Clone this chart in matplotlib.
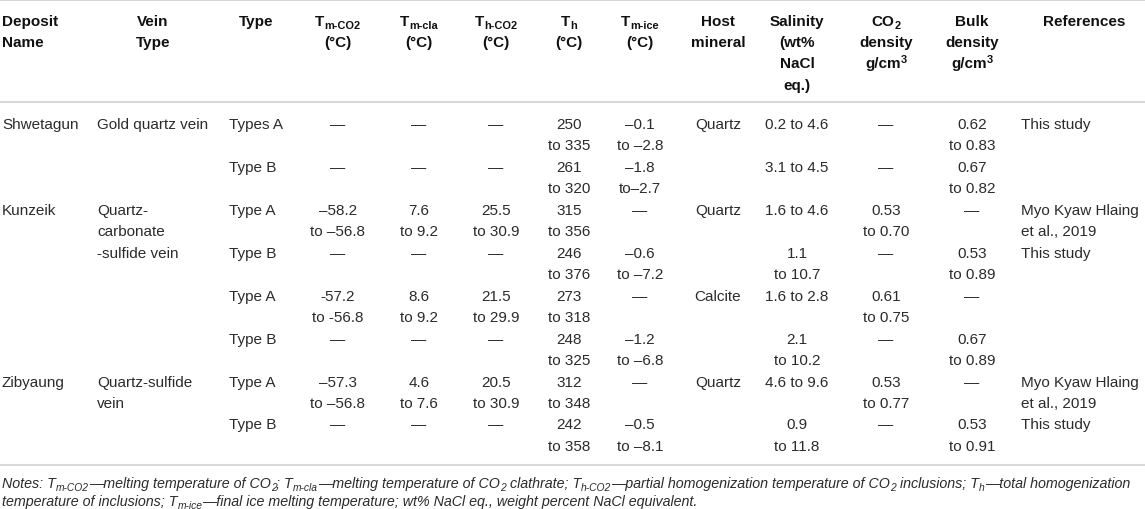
import matplotlib.pyplot as plt

plt.rcParams['font.family'] = ['Liberation Sans', 'DejaVu Sans']

# ---- table content -------------------------------------------------------
deposits = ["Shwetagun", "", "Kunzeik", "", "", "", "Zibyaung", ""]
vein_types = ["Gold quartz vein", "", "Quartz-\ncarbonate\n-sulfide vein", "",
              "", "", "Quartz-sulfide\nvein", ""]
inc_types = ["Types A", "Type B", "Type A", "Type B",
             "Type A", "Type B", "Type A", "Type B"]
tm_co2 = ["—", "—", "–58.2\nto –56.8", "—", "-57.2\nto -56.8", "—",
          "–57.3\nto –56.8", "—"]
tm_cla = ["—", "—", "7.6\nto 9.2", "—", "8.6\nto 9.2", "—", "4.6\nto 7.6", "—"]
th_co2 = ["—", "—", "25.5\nto 30.9", "—", "21.5\nto 29.9", "—",
          "20.5\nto 30.9", "—"]
th = ["250\nto 335", "261\nto 320", "315\nto 356", "246\nto 376",
      "273\nto 318", "248\nto 325", "312\nto 348", "242\nto 358"]
tm_ice = ["–0.1\nto –2.8", "–1.8\nto–2.7", "—", "–0.6\nto –7.2", "—",
          "–1.2\nto –6.8", "—", "–0.5\nto –8.1"]
host = ["Quartz", "", "Quartz", "", "Calcite", "", "Quartz", ""]
salinity = ["0.2 to 4.6", "3.1 to 4.5", "1.6 to 4.6", "1.1\nto 10.7",
            "1.6 to 2.8", "2.1\nto 10.2", "4.6 to 9.6", "0.9\nto 11.8"]
co2_density = ["—", "—", "0.53\nto 0.70", "—", "0.61\nto 0.75", "—",
               "0.53\nto 0.77", "—"]
bulk_density = ["0.62\nto 0.83", "0.67\nto 0.82", "—", "0.53\nto 0.89", "—",
                "0.67\nto 0.89", "—", "0.53\nto 0.91"]
references = ["This study", "", "Myo Kyaw Hlaing\net al., 2019", "This study",
              "", "", "Myo Kyaw Hlaing\net al., 2019", "This study"]

# header: each line is a list of (text, kind) pieces
headers = [
    [[("Deposit", "n")], [("Name", "n")]],
    [[("Vein", "n")], [("Type", "n")]],
    [[("Type", "n")]],
    [[("T", "n"), ("m-CO2", "sub")], [("(°C)", "n")]],
    [[("T", "n"), ("m-cla", "sub")], [("(°C)", "n")]],
    [[("T", "n"), ("h-CO2", "sub")], [("(°C)", "n")]],
    [[("T", "n"), ("h", "sub")], [("(°C)", "n")]],
    [[("T", "n"), ("m-ice", "sub")], [("(°C)", "n")]],
    [[("Host", "n")], [("mineral", "n")]],
    [[("Salinity", "n")], [("(wt%", "n")], [("NaCl", "n")], [("eq.)", "n")]],
    [[("CO", "n"), ("2", "sub")], [("density", "n")],
     [("g/cm", "n"), ("3", "sup")]],
    [[("Bulk", "n")], [("density", "n")], [("g/cm", "n"), ("3", "sup")]],
    [[("References", "n")]],
]

notes = [
    [("Notes: T", "n"), ("m-CO2", "sub"), ("—melting temperature of CO", "n"),
     ("2", "sub"), ("; T", "n"), ("m-cla", "sub"),
     ("—melting temperature of CO", "n"), ("2", "sub"), (" clathrate; T", "n"),
     ("h-CO2", "sub"), ("—partial homogenization temperature of CO", "n"),
     ("2", "sub"), (" inclusions; T", "n"), ("h", "sub"),
     ("—total homogenization", "n")],
    [("temperature of inclusions; T", "n"), ("m-ice", "sub"),
     ("—final ice melting temperature; wt% NaCl eq., weight percent NaCl "
      "equivalent.", "n")],
]

columns = [deposits, vein_types, inc_types, tm_co2, tm_cla, th_co2, th,
           tm_ice, host, salinity, co2_density, bulk_density, references]

# ---- layout (pixels) -----------------------------------------------------
W, H = 1145, 510
col_x = [2, 97, 229, 338, 419, 496, 569, 640, 718, 797, 886, 972, 1021]
col_ha = ["left", "left", "left"] + ["center"] * 9 + ["left"]
head_x = [2, 153, 256, 338, 419, 496, 569, 640, 718, 797, 886, 972, 1084]
head_ha = ["left"] + ["center"] * 12
head_y0, head_dy = 26, 21.2
row_y0, row_dy = 129, 21.46
rule_y = [1, 103, 466]
note_y = [488, 506]
note_width = 1136
FS = 11
data_color = "#2b2b2b"

fig = plt.figure(figsize=(W / 100, H / 100), dpi=100)
ax = fig.add_axes([0, 0, 1, 1])
ax.set_xlim(0, W)
ax.set_ylim(H, 0)
ax.axis("off")
renderer = fig.canvas.get_renderer()


def width_of(t):
    return t.get_window_extent(renderer).width


def rich(x, y, parts, ha="center", size=FS, **kw):
    # lay out pieces of text (with sub/superscripts) side by side
    probe = ax.text(0, 0, "a a", fontsize=size, **kw)
    probe2 = ax.text(0, 0, "aa", fontsize=size, **kw)
    space = width_of(probe) - width_of(probe2)
    probe.remove()
    probe2.remove()
    items = []
    for s, kind in parts:
        fs = size * 0.72 if kind != "n" else size
        dy = {"n": 0, "sub": 3.2, "sup": -5.5}[kind]
        lead = (len(s) - len(s.lstrip(" "))) * space
        trail = (len(s) - len(s.rstrip(" "))) * space
        t = ax.text(0, y + dy, s.strip(" "), fontsize=fs, ha="left",
                    va="baseline", **kw)
        items.append((t, lead, width_of(t), trail))
    total = sum(a + b + c for _, a, b, c in items)
    x0 = x - total / 2 if ha == "center" else x
    for t, lead, w, trail in items:
        x0 += lead
        t.set_x(x0)
        x0 += w + trail
    return [it[0] for it in items], total


# rules
for y in rule_y:
    ax.plot([0, W], [y, y], color="#d8d8d8", lw=1.5, solid_capstyle="butt")

# header
for hx, ha, lines in zip(head_x, head_ha, headers):
    for k, parts in enumerate(lines):
        rich(hx, head_y0 + k * head_dy, parts, ha=ha, fontweight="bold",
             color="#111111")

# body
for cx, ha, values in zip(col_x, col_ha, columns):
    for r, val in enumerate(values):
        for k, line in enumerate(val.split("\n")):
            if line:
                ax.text(cx, row_y0 + (2 * r + k) * row_dy, line, fontsize=FS,
                        ha=ha, va="baseline", color=data_color)

# notes: size chosen so the first line spans the table width
note_kw = dict(fontstyle="italic", color=data_color)
probe_texts, probe_w = rich(2, note_y[0], notes[0], ha="left", size=10,
                            **note_kw)
for t in probe_texts:
    t.remove()
note_fs = 10 * note_width / probe_w
for ny, parts in zip(note_y, notes):
    rich(2, ny, parts, ha="left", size=note_fs, **note_kw)

fig.savefig("out.png", dpi=100)
